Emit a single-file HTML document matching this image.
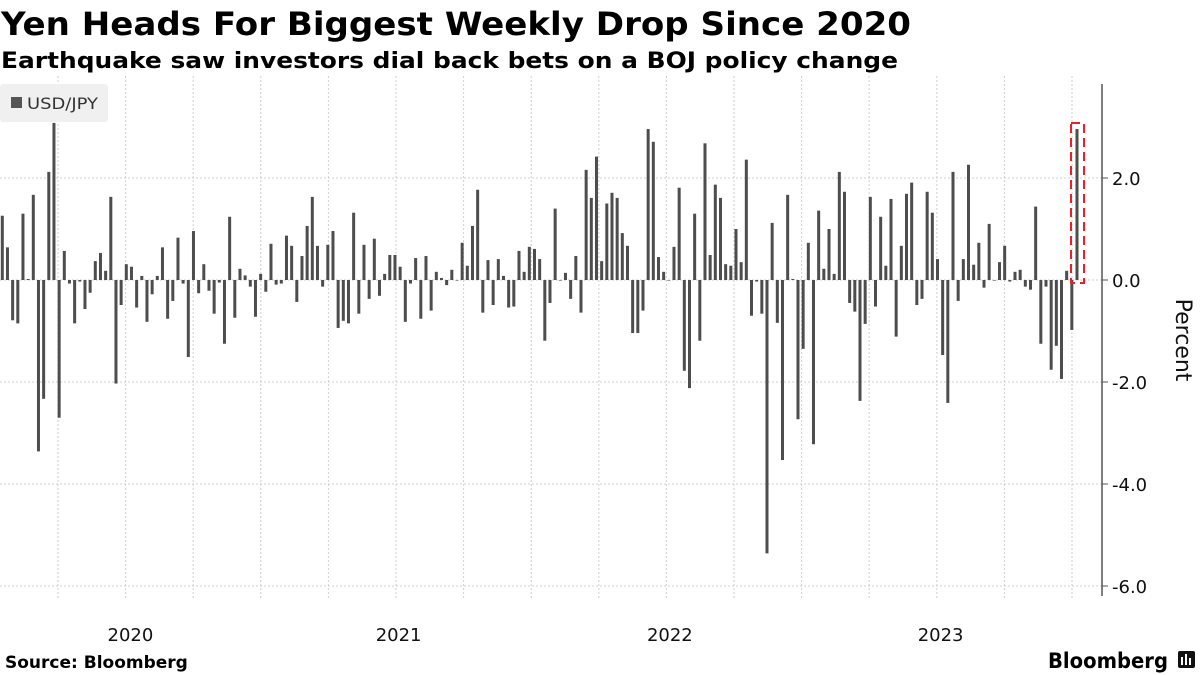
<!DOCTYPE html>
<html><head><meta charset="utf-8"><style>
html,body{margin:0;padding:0;background:#fff;}
svg{display:block;font-family:"DejaVu Sans","Liberation Sans",sans-serif;}
</style></head><body>
<svg id="chart" width="1200" height="675" viewBox="0 0 1200 675" xmlns="http://www.w3.org/2000/svg">
<text x="1" y="35" font-size="32" font-weight="bold" textLength="910" lengthAdjust="spacingAndGlyphs">Yen Heads For Biggest Weekly Drop Since 2020</text>
<text x="1" y="68" font-size="22" font-weight="bold" textLength="897" lengthAdjust="spacingAndGlyphs">Earthquake saw investors dial back bets on a BOJ policy change</text>
<g id="grid"></g>
<g id="bars"></g>
<g id="axis"></g>
<g>
<rect x="0" y="84" width="108" height="38" fill="#f0f0f0" rx="3"/>
<rect x="11" y="97" width="11" height="11" fill="#555"/>
<text x="27" y="109" font-size="16" fill="#333" textLength="71" lengthAdjust="spacingAndGlyphs">USD/JPY</text>
</g>
<rect x="1071" y="123" width="13" height="160" fill="none" stroke="#e8202a" stroke-width="2" stroke-dasharray="9,5"/>
<text transform="translate(1176,340) rotate(90)" font-size="22" text-anchor="middle" fill="#111">Percent</text>
<text x="5" y="668" font-size="17" font-weight="bold">Source: Bloomberg</text>
<text x="1048" y="668" font-size="21" font-weight="600" textLength="120" lengthAdjust="spacingAndGlyphs">Bloomberg</text>
<g><rect x="1178" y="651" width="17" height="17" rx="2" fill="#111"/><rect x="1181" y="657" width="2" height="8" fill="#fff"/><rect x="1185" y="654" width="2" height="11" fill="#fff"/><rect x="1189" y="658" width="2" height="7" fill="#fff"/></g>
</svg>
<script>
const values = [1.26,0.64,-0.79,-0.85,1.30,0.02,1.67,-3.36,-2.33,2.12,3.08,-2.70,0.57,-0.07,-0.85,-0.03,-0.57,-0.25,0.37,0.53,0.18,1.63,-2.03,-0.49,0.31,0.26,-0.54,0.08,-0.82,-0.28,0.08,0.64,-0.76,-0.41,0.83,-0.07,
-1.51,0.96,-0.26,0.31,-0.21,-0.66,-0.05,-1.25,1.24,-0.74,0.22,0.09,-0.13,-0.72,0.12,-0.23,0.71,-0.09,-0.07,0.87,0.67,-0.43,0.47,1.06,1.63,0.67,-0.13,0.69,0.96,-0.94,-0.80,-0.85,1.32,-0.66,0.69,
-0.37,0.81,-0.31,0.12,0.49,0.49,0.26,-0.82,-0.07,0.43,-0.76,0.47,-0.60,0.16,0.04,-0.10,0.20,-0.01,0.73,0.28,1.06,1.77,-0.64,0.39,-0.49,0.41,0.08,-0.54,-0.52,0.57,0.16,0.65,0.61,0.41,-1.19,
-0.45,1.40,-0.01,0.14,-0.37,0.47,-0.64,2.16,1.61,2.42,0.37,1.50,1.71,1.61,0.92,0.67,-1.04,-1.04,-0.60,2.96,2.71,0.45,0.16,-0.01,0.65,1.81,-1.78,-2.12,1.30,-1.19,2.68,0.49,1.87,1.61,0.31,
0.28,1.00,0.35,2.36,-0.70,-0.03,-0.66,-5.36,1.12,-0.84,-3.53,1.67,0.02,-2.73,-1.35,0.73,-3.22,1.36,0.22,1.00,0.12,2.12,1.73,-0.45,-0.62,-2.37,-0.86,1.63,-0.52,1.24,0.28,1.59,-1.11,0.67,
1.69,1.91,-0.49,-0.37,1.73,1.32,0.41,-1.47,-2.41,2.12,-0.41,0.41,2.26,0.30,0.73,-0.15,1.10,-0.01,0.35,0.67,-0.03,0.16,0.20,-0.13,-0.19,1.44,-1.25,-0.13,-1.76,-1.29,-1.94,0.18,-0.98,2.96];
const yTicks = [2.0, 0.0, -2.0, -4.0, -6.0];
const yearLabels = ["2020","2021","2022","2023"];
const yearIndex = [24.8, 76.7, 129.2, 181.6];
const NS="http://www.w3.org/2000/svg";
const x0=2.3, x1=1077;
const n=values.length;
function xScale(i){return x0+i*(x1-x0)/(n-1);}
function yScale(v){return 280-v*51;}
const grid=document.getElementById('grid'), bars=document.getElementById('bars'), axis=document.getElementById('axis');
function mk(tag,attrs,parent){const e=document.createElementNS(NS,tag);for(const k in attrs)e.setAttribute(k,attrs[k]);parent.appendChild(e);return e;}
for(let k=0;k<16;k++){const gx=58+k*67.6;
 const l=mk('line',{x1:gx,x2:gx,y1:76,y2:598,stroke:'#cfcfcf','stroke-dasharray':'2,2'},grid);
 
 }
yTicks.forEach(t=>{const y=yScale(t);
 const l=mk('line',{x1:0,x2:1102,y1:y,y2:y,stroke:'#cfcfcf','stroke-dasharray':'2,2'},grid);
 
 
 const tk=mk('line',{x1:1102,x2:1108,y1:y,y2:y,stroke:'#555'},axis);
 
 
 const tx=mk('text',{x:1112,y:y+7,'font-size':18,fill:'#111'},axis);
 tx.textContent=t.toFixed(1);
 
 });
const al=mk('line',{x1:1102,x2:1102,y1:84,y2:596,stroke:'#555','stroke-width':1.5},axis);


values.forEach((v,i)=>{const x=xScale(i),y=yScale(v),z=yScale(0);
 const r=mk('rect',{x:x-1.5,y:Math.min(y,z),width:3,height:Math.max(Math.abs(y-z),0.6),fill:'#4d4d4d'},bars);
 
 });
yearLabels.forEach((lab,j)=>{const t=mk('text',{x:xScale(yearIndex[j]),y:641,'font-size':18,'text-anchor':'middle',fill:'#111'},axis);
 t.textContent=lab;
 
 });
</script>
</body></html>
